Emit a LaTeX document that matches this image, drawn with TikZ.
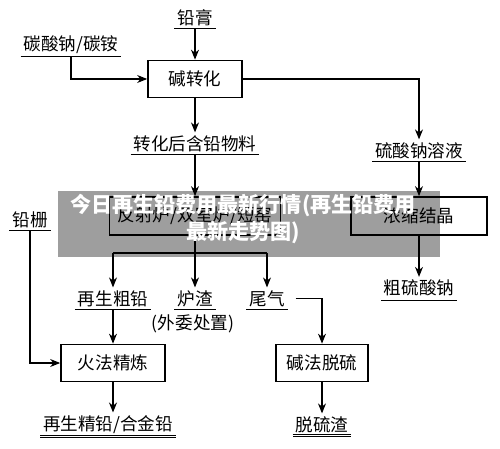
\documentclass[tikz,border=0pt]{standalone}
\usepackage{fontspec}
\setmainfont{Noto Sans CJK SC}
\usetikzlibrary{arrows.meta}

\begin{document}
\begin{tikzpicture}[x=0.02cm, y=-0.02cm, font=\fontsize{10}{12}\selectfont,
    flecha/.style={-{Stealth[length=2mm,width=1.6mm]}, line width=0.6pt},
    caja/.style={draw, line width=1pt, minimum width=#1, minimum height=0.74cm, inner sep=0pt},
    mat/.style={inner sep=1.5pt, append after command={(\tikzlastnode.south west) edge[line width=0.6pt] (\tikzlastnode.south east)}},
    dmat/.style={inner sep=1.5pt, append after command={(\tikzlastnode.south west) edge[double, double distance=0.8pt, line width=0.4pt] (\tikzlastnode.south east)}}]
    \useasboundingbox (0,0) rectangle (500,449);

    % Materias primas
    \node[mat] (pasta) at (195,17.5) {铅膏};
    \node[mat] (carb) at (71,44.5) {碳酸钠/碳铵};
    \node[mat] (rejilla) at (30,219.5) {铅栅};

    % Cajas de proceso
    \node[caja=1.88cm] (conv) at (195,79) {碱转化};
    \node[caja=3.42cm, minimum height=0.76cm] (horno) at (195,216) {反射炉/双室炉/短窑};
    \node[caja=2.72cm, minimum height=0.76cm] (cryst) at (419,216) {浓缩结晶};
    \node[caja=2.08cm] (refino) at (113,363) {火法精炼};
    \node[caja=1.84cm] (desulf) at (322,363) {碱法脱硫};

    % Productos intermedios
    \node[mat] (convmat) at (195,143.5) {转化后含铅物料};
    \node[mat] (sulfsol) at (419,150.5) {硫酸钠溶液};
    \node[mat] (crudo) at (113,298.5) {再生粗铅};
    \node[mat] (escoria) at (195,298.5) {炉渣};
    \node (externo) at (193,324) {(外委处置)};
    \node[mat] (gas) at (267,298.5) {尾气};

    % Productos finales
    \node[dmat] (sulfcr) at (419,288) {粗硫酸钠};
    \node[dmat] (refinado) at (108,424.5) {再生精铅/合金铅};
    \node[dmat] (yeso) at (322,424.5) {脱硫渣};

    % Conexiones
    \draw[flecha] (pasta) -- (conv);
    \draw[flecha] (carb) |- (conv);
    \draw[flecha] (conv) -| (sulfsol);
    \draw[flecha] (conv) -- (convmat);
    \draw[flecha] (convmat) -- (horno);
    \draw[flecha] (sulfsol) -- (cryst);
    \draw[flecha] (cryst) -- (sulfcr);

    % Ramas bajo el horno
    \coordinate (ramaI) at (113,253);
    \coordinate (ramaD) at (267,253);
    \draw[line width=0.6pt] (ramaI) -- (ramaD);
    \draw[flecha] (horno) -- (escoria);
    \draw[flecha] (ramaI) -- (crudo);
    \draw[flecha] (ramaD) -- (gas);

    \draw[flecha] (crudo) -- (refino);
    \draw[flecha] (rejilla) |- (refino);
    \draw[flecha, shorten <=1.6mm] (gas) -| (desulf);
    \draw[flecha] (refino) -- (refino |- refinado.north);
    \draw[flecha] (desulf) -- (yeso);

    % Marca de agua
    \fill[black, opacity=0.38] (58,191) rectangle (440,257);
    \node[white, font=\fontsize{12}{15.4}\selectfont\bfseries, align=center] (marca) at (243,219)
        {今日再生铅费用最新行情(再生铅费用\\最新走势图)};
\end{tikzpicture}
\end{document}
